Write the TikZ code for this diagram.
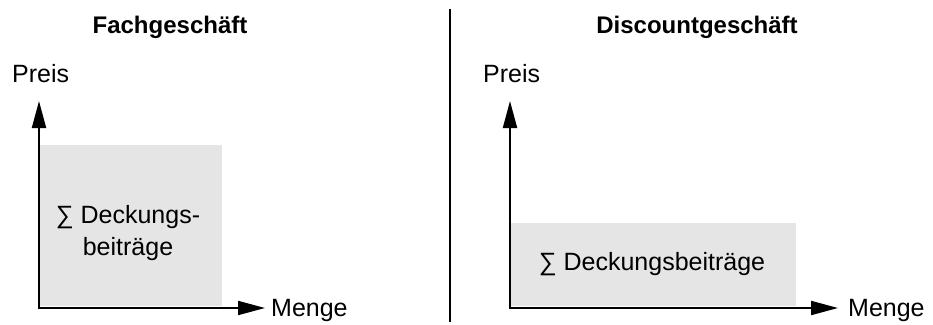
\documentclass[tikz,border=0pt]{standalone}
\usepackage{fontspec}
\setmainfont{Liberation Sans}
\usetikzlibrary{arrows.meta}
\definecolor{boxgray}{HTML}{E5E5E5}
\begin{document}
\begin{tikzpicture}[x=1pt,y=-1pt,
  axis/.style={line width=2pt,-{Triangle[length=27pt,width=14pt]}},
  area/.style={fill=boxgray,draw=none},
  lab/.style={inner sep=0pt,font=\fontsize{25}{31.5}\selectfont},
  ttl/.style={inner sep=0pt,font=\bfseries\fontsize{24}{29}\selectfont},
  divider/.style={line width=2pt}]
\useasboundingbox (0,0) rectangle (933,324);
% left panel
\fill[area] (40,145) rectangle (222,306);
\coordinate (o1) at (39,308);
\coordinate (y1) at (39,101);
\coordinate (x1) at (265,308);
\draw[axis] ([yshift=-1pt]o1) -- (y1);
\draw[axis] ([xshift=-1pt]o1) -- (x1);
\node[ttl,anchor=base] (t1) at (170,33) {Fachgeschäft};
\node[lab,anchor=base west] (p1) at (12,82) {Preis};
\node[lab,anchor=base west] (m1) at (271,316) {Menge};
\node[lab,align=center,anchor=base] (d1) at (128,255) {∑ Deckungs-\\beiträge};
% divider
\coordinate (dv1) at (450,9);
\coordinate (dv2) at (450,322);
\draw[divider] (dv1) -- (dv2);
% right panel
\fill[area] (511,223) rectangle (796,306);
\coordinate (o2) at (510,308);
\coordinate (y2) at (510,101);
\coordinate (x2) at (838,308);
\draw[axis] ([yshift=-1pt]o2) -- (y2);
\draw[axis] ([xshift=-1pt]o2) -- (x2);
\node[ttl,anchor=base] (t2) at (697,33) {Discountgeschäft};
\node[lab,anchor=base west] (p2) at (483,82) {Preis};
\node[lab,anchor=base west] (m2) at (848,316) {Menge};
\node[lab,anchor=base] (d2) at (652,270) {∑ Deckungsbeiträge};
\end{tikzpicture}
\end{document}
